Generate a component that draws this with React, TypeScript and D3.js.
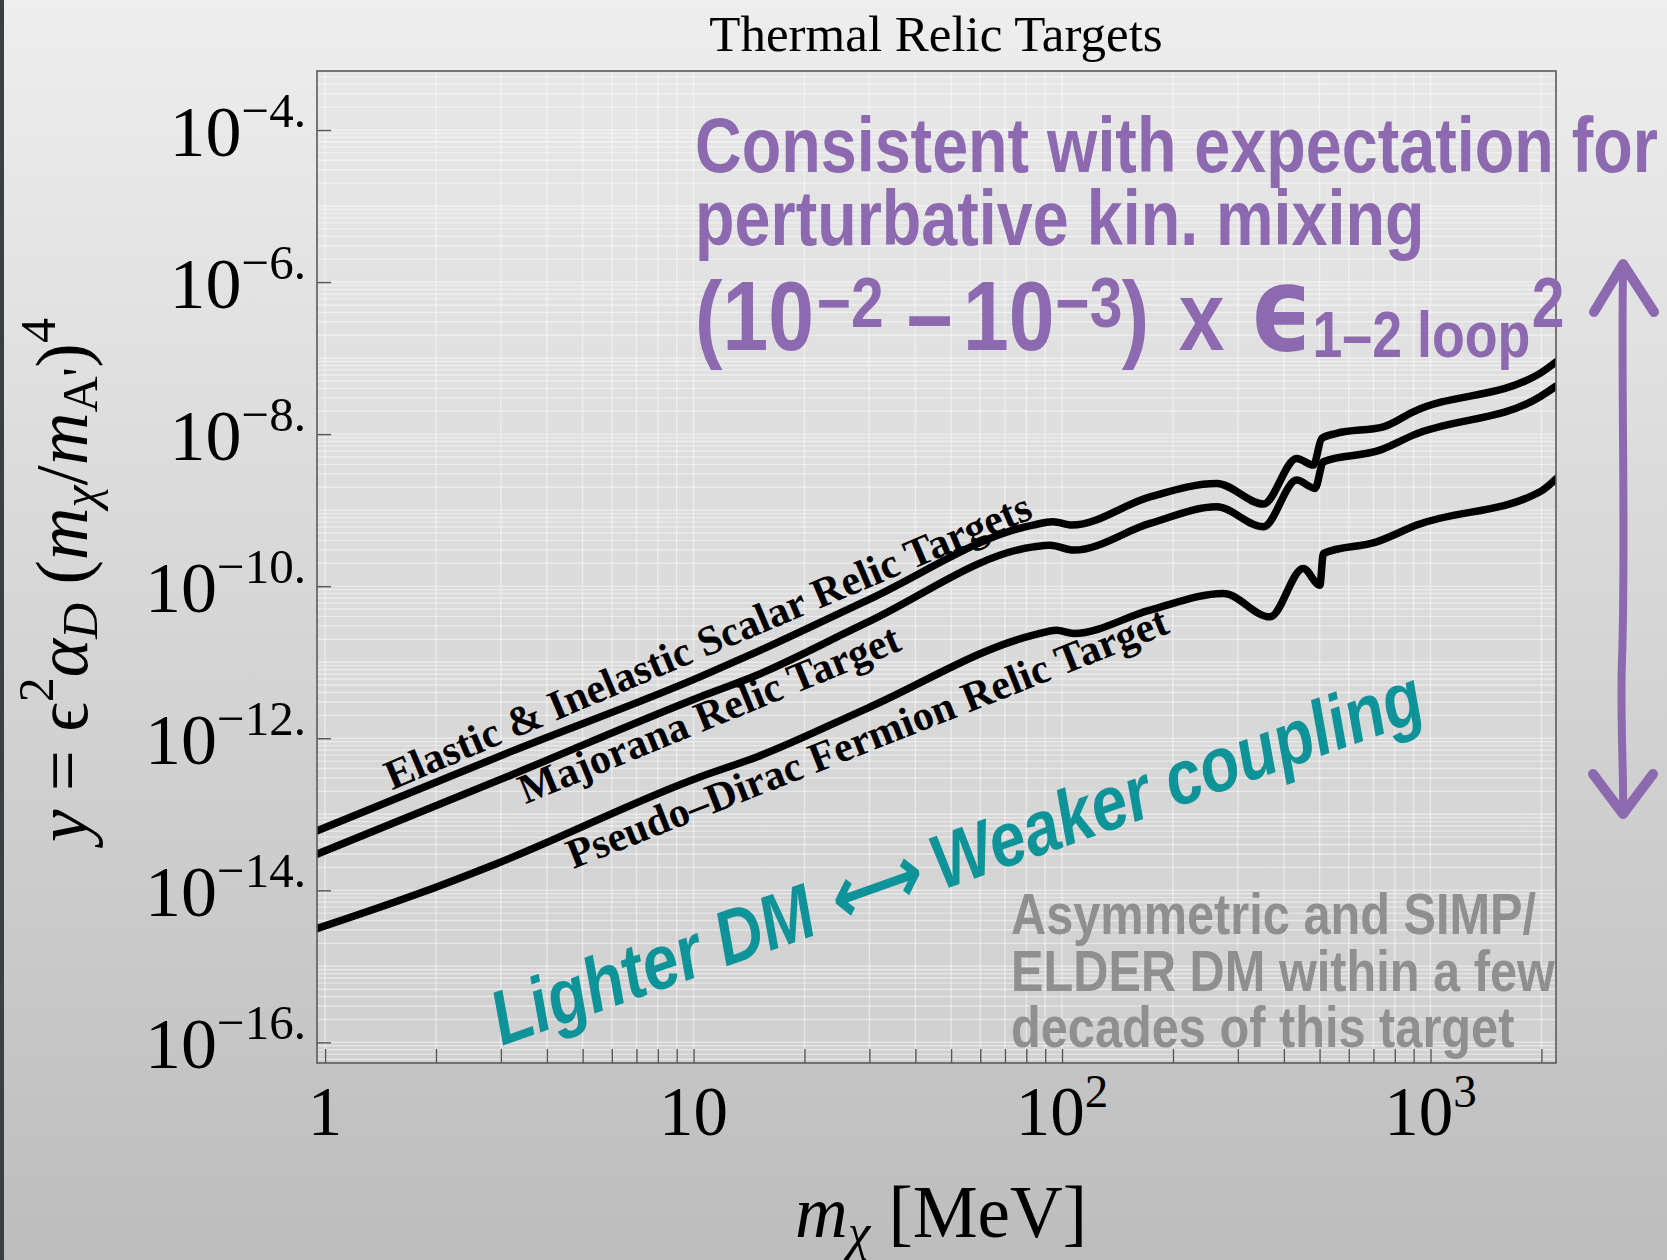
import React, { useEffect, useRef } from 'react';
import * as d3 from 'd3';

const width = 1667;
const height = 1260;
const frame = { left: 317, right: 1556, top: 71, bottom: 1063 };

const serif = '"Liberation Serif", "Times New Roman", serif';
const sans = '"Liberation Sans", Arial, sans-serif';

// axis ranges (MeV, and log10 of y)
const xDomain = [0.951, 2191];
const yDomainLog = [-16.272, -3.224];

// Elastic & Inelastic Scalar relic target
const scalarMass = [0.95, 3.18, 10.41, 14.85, 29.5, 83.4, 94.5, 106.4, 173.3, 263, 351.8, 433.5, 481, 507, 556, 745, 898, 1983, 2191];
const scalarLogY = [-13.22, -12.18, -11.193, -10.864, -10.19, -9.197, -9.154, -9.197, -8.825, -8.649, -8.92, -8.32, -8.408, -8.057, -7.99, -7.904, -7.707, -7.201, -7.05];

// Majorana relic target
const majoranaMass = [0.95, 3.18, 10.41, 14.85, 29.5, 83.6, 92.8, 107.6, 173.3, 263, 351.8, 433.5, 486, 512, 729, 898, 1983, 2191];
const majoranaLogY = [-13.526, -12.49, -11.457, -11.171, -10.48, -9.483, -9.461, -9.526, -9.175, -8.957, -9.22, -8.605, -8.714, -8.363, -8.211, -8.013, -7.509, -7.37];

// Pseudo-Dirac fermion relic target
const diracMass = [0.95, 1.85, 2.92, 10.41, 14.85, 29.5, 83.6, 96.7, 107.6, 173.3, 274, 366.8, 451.7, 501, 512, 714.5, 917.5, 1983, 2191];
const diracLogY = [-14.504, -14.02, -13.65, -12.509, -12.246, -11.61, -10.645, -10.579, -10.622, -10.316, -10.096, -10.404, -9.767, -9.987, -9.57, -9.417, -9.197, -8.759, -8.59];

const curves = [
  { name: 'scalar', mass: scalarMass, logY: scalarLogY },
  { name: 'majorana', mass: majoranaMass, logY: majoranaLogY },
  { name: 'dirac', mass: diracMass, logY: diracLogY },
];

// curve labels, anchored in data space
const labelText = ['Elastic & Inelastic Scalar Relic Targets', 'Majorana Relic Target', 'Pseudo\u2013Dirac Fermion Relic Target'];
const labelMass = [1.52, 3.5, 4.72];
const labelLogY = [-12.684, -12.87, -13.72];
const labelAngle = [-23, -22.3, -21.6];

// ticks
const xTickValues = [1, 10, 100, 1000];
const xTickExp = ['', '', '2', '3'];
const yTickExp = [-4, -6, -8, -10, -12, -14, -16];

export default function App() {
  const axisRef = useRef<SVGGElement>(null);

  const x = d3.scaleLog().domain(xDomain).range([frame.left, frame.right]);
  const y = d3.scaleLog().domain(yDomainLog.map(e => 10 ** e)).range([frame.bottom, frame.top]);

  const xMinor = d3.range(0, 4)
    .flatMap(k => d3.range(1, 10).map(n => n * 10 ** k))
    .filter(v => v >= xDomain[0] && v <= xDomain[1]);
  const yMinor = d3.range(-17, -3)
    .flatMap(k => d3.range(1, 10).map(n => n * 10 ** k))
    .filter(v => Math.log10(v) >= yDomainLog[0] && Math.log10(v) <= yDomainLog[1]);

  const line = d3.line<[number, number]>()
    .x(d => x(d[0]))
    .y(d => y(10 ** d[1]))
    .curve(d3.curveMonotoneX);

  useEffect(() => {
    const g = d3.select(axisRef.current);
    g.selectAll('*').remove();

    g.append('g')
      .attr('transform', `translate(0,${frame.bottom})`)
      .call(d3.axisBottom(x).tickValues(xMinor).tickSize(-14).tickFormat(() => ''))
      .call(s => s.select('.domain').remove())
      .call(s => s.selectAll('line').attr('stroke', '#555').attr('stroke-width', 1.4));

    g.append('g')
      .attr('transform', `translate(${frame.left},0)`)
      .call(d3.axisLeft(y).tickValues(yTickExp.map(e => 10 ** e)).tickSize(-14).tickFormat(() => ''))
      .call(s => s.select('.domain').remove())
      .call(s => s.selectAll('line').attr('stroke', '#555').attr('stroke-width', 1.4));
  }, []);

  return (
    <svg width={width} height={height} style={{ position: 'absolute', left: 0, top: 0, display: 'block' }}>
      <defs>
        <linearGradient id="pageBg" x1="0" y1="0" x2="0" y2="1">
          <stop offset="0" stopColor="#eeeeee" />
          <stop offset="1" stopColor="#bdbdbd" />
        </linearGradient>
        <linearGradient id="plotBg" x1="0" y1="0" x2="0" y2="1">
          <stop offset="0" stopColor="#e7e7e7" />
          <stop offset="1" stopColor="#d0d0d0" />
        </linearGradient>
        <clipPath id="plotClip">
          <rect x={frame.left} y={frame.top} width={frame.right - frame.left} height={frame.bottom - frame.top} />
        </clipPath>
      </defs>

      <rect x={0} y={0} width={width} height={height} fill="url(#pageBg)" />
      <rect x={0} y={0} width={4} height={height} fill="#3b3e44" />

      {/* plot area + grid */}
      <rect x={frame.left} y={frame.top} width={frame.right - frame.left} height={frame.bottom - frame.top} fill="url(#plotBg)" />
      <g clipPath="url(#plotClip)" stroke="#ffffff" strokeOpacity={0.45} strokeWidth={1.4}>
        {xMinor.map(v => (
          <line key={`gx${v}`} x1={x(v)} x2={x(v)} y1={frame.top} y2={frame.bottom} />
        ))}
        {yMinor.map(v => (
          <line key={`gy${v}`} x1={frame.left} x2={frame.right} y1={y(v)} y2={y(v)} />
        ))}
      </g>

      {/* relic target curves */}
      <g clipPath="url(#plotClip)" fill="none" stroke="#000" strokeWidth={7.5} strokeLinejoin="round" strokeLinecap="round">
        {curves.map(c => (
          <path key={c.name} d={line(c.mass.map((m, i) => [m, c.logY[i]] as [number, number])) || ''} />
        ))}
      </g>

      <rect x={frame.left} y={frame.top} width={frame.right - frame.left} height={frame.bottom - frame.top} fill="none" stroke="#5a5a5a" strokeWidth={1.6} />
      <g ref={axisRef} />

      {/* curve labels */}
      {labelText.map((t, i) => (
        <text key={t} transform={`translate(${x(labelMass[i])},${y(10 ** labelLogY[i])}) rotate(${labelAngle[i]})`}
          fontFamily={serif} fontWeight="bold" fontSize={42} fill="#000">{t}</text>
      ))}

      {/* tick labels */}
      {yTickExp.map(e => (
        <text key={`yl${e}`} x={306} y={y(10 ** e) + 26} textAnchor="end" fontFamily={serif} fontSize={72} fill="#000">
          10<tspan dy={-29} fontSize={49}>{`\u2212${-e}.`}</tspan>
        </text>
      ))}
      {xTickValues.map((v, i) => (
        <text key={`xl${v}`} x={x(v)} y={1135} textAnchor="middle" fontFamily={serif} fontSize={69} fill="#000">
          {v === 1 ? '1' : '10'}
          {xTickExp[i] && <tspan dy={-28} fontSize={47}>{xTickExp[i]}</tspan>}
        </text>
      ))}

      {/* title and axis labels */}
      <text x={936} y={51} textAnchor="middle" fontFamily={serif} fontSize={51} fill="#000">Thermal Relic Targets</text>
      <text x={941} y={1237} textAnchor="middle" fontFamily={serif} fontSize={73} fill="#000">
        <tspan fontStyle="italic">m</tspan>
        <tspan dy={12} fontSize={51} fontStyle="italic">{'\u03c7'}</tspan>
        <tspan dy={-12}>{' [MeV]'}</tspan>
      </text>
      <text transform="translate(87,580) rotate(-90)" textAnchor="middle" fontFamily={serif} fontSize={73} fill="#000">
        <tspan fontStyle="italic">y</tspan>
        <tspan>{' = \u03f5'}</tspan>
        <tspan dy={-34} fontSize={50}>2</tspan>
        <tspan dy={34} fontStyle="italic">{'\u03b1'}</tspan>
        <tspan dy={10} fontSize={50} fontStyle="italic">D</tspan>
        <tspan dy={-10}>{' ('}</tspan>
        <tspan fontStyle="italic">m</tspan>
        <tspan dy={10} fontSize={50} fontStyle="italic">{'\u03c7'}</tspan>
        <tspan dy={-10}>/</tspan>
        <tspan fontStyle="italic">m</tspan>
        <tspan dy={10} fontSize={50}>{"A'"}</tspan>
        <tspan dy={-10}>)</tspan>
        <tspan dy={-32} fontSize={50}>4</tspan>
      </text>

      {/* purple annotation */}
      <g fill="#8d6ab0" fontFamily={sans} fontWeight="bold">
        <g transform="translate(695,0) scale(0.84,1)">
          <text x={0} y={172} fontSize={77}>Consistent with expectation for</text>
          <text x={0} y={245} fontSize={77}>perturbative kin. mixing</text>
        </g>
        <g transform="translate(695,350) scale(0.84,1)">
          <text x={0} y={0} fontSize={98}>(10</text>
          <text x={145} y={-23} fontSize={70}>{'\u22122'}</text>
          <text x={252} y={-2} fontSize={98}>{'\u2013'}</text>
          <text x={319} y={0} fontSize={98}>10</text>
          <text x={429} y={-23} fontSize={70}>{'\u22123'}</text>
          <text x={508} y={0} fontSize={98}>)</text>
          <text x={576} y={0} fontSize={98}>x</text>
          <text x={660} y={0} fontSize={118} fontFamily='"DejaVu Sans", sans-serif'>{'\u03f5'}</text>
          <text x={735} y={7} fontSize={64}>{'1\u20132 loop'}</text>
          <text x={996} y={-23} fontSize={70}>2</text>
        </g>
      </g>
      <g fill="none" stroke="#8d6ab0" strokeLinecap="round" strokeLinejoin="round">
        <path d="M1623,268 C1621,400 1626,540 1622,660 C1620,720 1624,780 1623,810" strokeWidth={8} />
        <path d="M1594,312 L1623,264 L1654,312" strokeWidth={10} />
        <path d="M1593,774 L1623,814 L1653,774" strokeWidth={10} />
      </g>

      {/* teal annotation */}
      <g transform="translate(502,1046) rotate(-19.5) scale(0.84,1)">
        <text x={0} y={0} fontFamily={sans} fontWeight="bold" fontStyle="italic" fontSize={77} fill="#0e9398">
          {'Lighter DM \u27f7 Weaker coupling'}
        </text>
      </g>

      {/* gray annotation */}
      <g transform="translate(1011,0) scale(0.84,1)" fill="#8f8f8f" fontFamily={sans} fontWeight="bold" fontSize={58}>
        <text x={0} y={934}>Asymmetric and SIMP/</text>
        <text x={0} y={991}>ELDER DM within a few</text>
        <text x={0} y={1047}>decades of this target</text>
      </g>
    </svg>
  );
}
